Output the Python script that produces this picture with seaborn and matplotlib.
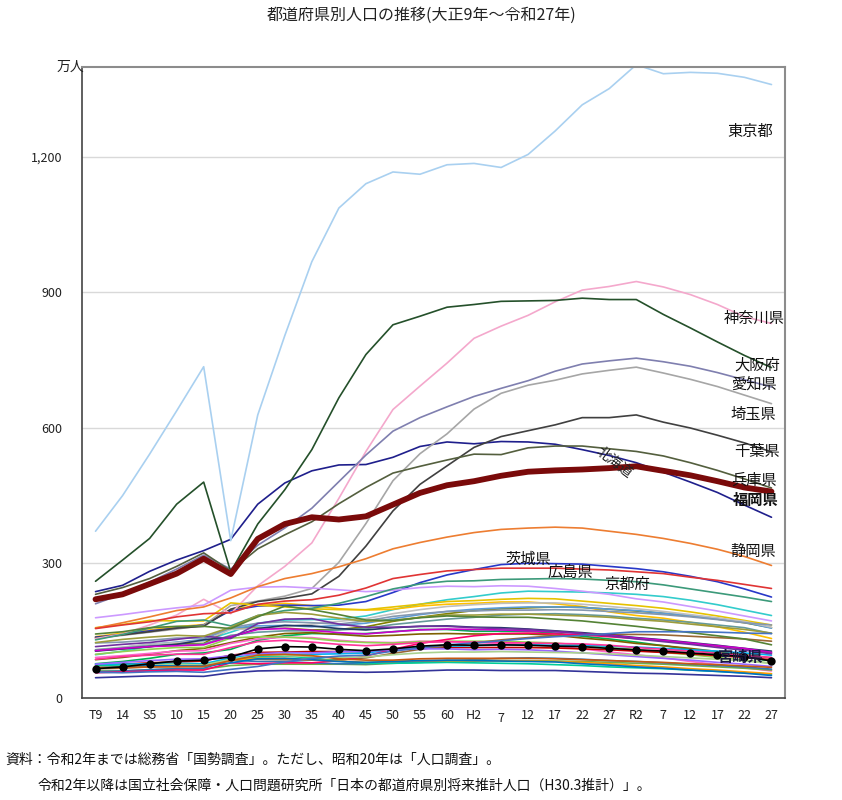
import numpy as np
import pandas as pd
import matplotlib
matplotlib.use("Agg")
import matplotlib.pyplot as plt
import seaborn as sns

# ---- x axis categories (census years, 大正9年 .. 令和27年) ----
x_labels = ["T9", "14", "S5", "10", "15", "20", "25", "30", "35", "40", "45", "50", "55",
            "60", "H2", "7", "12", "17", "22", "27", "R2", "7", "12", "17", "22", "27"]

# ---- population by prefecture (万人) ----
hokkaido = [236, 250, 281, 306, 327, 352, 430, 477, 504, 517, 518, 534, 558, 568, 564, 569, 568, 563, 551, 538, 522, 501, 479, 456, 428, 401]
aomori = [76, 81, 88, 97, 100, 108, 128, 138, 143, 142, 143, 147, 152, 152, 148, 148, 148, 144, 137, 131, 124, 116, 108, 99, 91, 82]
iwate = [85, 90, 97, 105, 110, 123, 135, 143, 145, 141, 137, 139, 142, 143, 142, 142, 142, 139, 133, 128, 121, 116, 110, 103, 96, 89]
miyagi = [96, 104, 114, 123, 127, 146, 166, 173, 174, 175, 182, 196, 208, 218, 225, 233, 237, 236, 235, 233, 230, 225, 217, 207, 195, 183]
akita = [90, 94, 99, 104, 105, 121, 131, 135, 134, 128, 124, 123, 126, 125, 123, 121, 119, 115, 109, 102, 96, 89, 81, 74, 67, 60]
yamagata = [97, 103, 108, 112, 112, 133, 136, 135, 132, 126, 123, 122, 125, 126, 126, 126, 124, 122, 117, 112, 107, 101, 96, 90, 84, 77]
fukushima = [136, 144, 151, 158, 163, 196, 206, 210, 205, 198, 195, 197, 204, 208, 210, 213, 213, 209, 203, 191, 183, 177, 168, 158, 146, 132]
ibaraki = [135, 141, 149, 155, 162, 194, 204, 206, 205, 206, 214, 234, 256, 273, 285, 296, 299, 298, 297, 292, 287, 280, 270, 258, 242, 224]
tochigi = [105, 109, 114, 120, 121, 155, 155, 155, 151, 152, 158, 170, 179, 187, 194, 198, 200, 202, 201, 197, 193, 188, 182, 175, 167, 156]
gunma = [105, 112, 119, 124, 130, 155, 160, 161, 158, 161, 166, 176, 185, 192, 197, 200, 202, 202, 201, 197, 194, 188, 183, 176, 168, 155]
saitama = [132, 139, 146, 153, 161, 205, 215, 226, 243, 301, 387, 482, 542, 586, 641, 676, 694, 705, 719, 727, 734, 721, 707, 691, 672, 653]
chiba = [134, 140, 147, 155, 159, 197, 214, 221, 231, 270, 337, 415, 474, 515, 556, 580, 593, 606, 622, 622, 628, 612, 599, 583, 566, 546]
tokyo = [370, 449, 541, 637, 735, 349, 628, 804, 968, 1087, 1141, 1167, 1162, 1183, 1186, 1177, 1206, 1258, 1316, 1352, 1405, 1385, 1388, 1386, 1377, 1361]
kanagawa = [132, 142, 162, 184, 219, 187, 249, 292, 344, 443, 547, 640, 692, 743, 798, 825, 849, 879, 905, 913, 924, 912, 895, 873, 846, 831]
niigata = [178, 185, 193, 200, 206, 239, 246, 247, 244, 240, 236, 239, 245, 248, 247, 249, 248, 243, 237, 230, 220, 213, 203, 193, 182, 171]
toyama = [72, 75, 78, 80, 82, 95, 101, 102, 103, 103, 103, 107, 110, 112, 112, 112, 112, 111, 109, 107, 104, 101, 98, 94, 90, 85]
ishikawa = [75, 75, 76, 77, 76, 89, 96, 97, 97, 98, 100, 107, 112, 115, 116, 118, 118, 117, 117, 115, 113, 110, 107, 104, 100, 95]
fukui = [60, 60, 62, 65, 64, 72, 75, 75, 75, 75, 74, 77, 79, 82, 82, 83, 83, 82, 81, 79, 77, 75, 72, 69, 66, 62]
yamanashi = [58, 60, 63, 65, 66, 84, 81, 81, 78, 76, 76, 78, 80, 83, 85, 88, 89, 88, 86, 83, 81, 78, 75, 72, 69, 64]
nagano = [156, 163, 172, 171, 171, 211, 206, 202, 198, 196, 196, 202, 208, 214, 216, 219, 221, 220, 215, 210, 205, 199, 191, 182, 172, 162]
gifu = [107, 113, 119, 123, 127, 152, 154, 158, 164, 170, 176, 187, 196, 203, 207, 210, 211, 211, 208, 203, 198, 192, 185, 178, 170, 157]
shizuoka = [155, 167, 180, 194, 202, 222, 247, 265, 276, 291, 309, 331, 345, 357, 367, 374, 377, 379, 377, 370, 363, 354, 343, 330, 314, 294]
aichi = [209, 231, 257, 286, 317, 286, 339, 377, 421, 480, 539, 592, 622, 646, 669, 687, 704, 725, 741, 748, 754, 746, 736, 722, 706, 690]
mie = [107, 111, 116, 117, 120, 139, 146, 149, 149, 151, 154, 163, 169, 175, 179, 184, 186, 187, 185, 182, 177, 173, 168, 162, 156, 143]
shiga = [65, 66, 69, 71, 70, 86, 86, 85, 84, 85, 89, 99, 108, 116, 122, 129, 134, 138, 141, 141, 141, 140, 137, 134, 131, 126]
kyoto = [129, 141, 155, 170, 173, 160, 183, 194, 199, 210, 225, 242, 253, 259, 260, 263, 264, 265, 264, 261, 258, 251, 242, 233, 224, 214]
osaka = [259, 306, 354, 430, 479, 280, 386, 462, 551, 666, 762, 828, 847, 867, 873, 880, 881, 882, 887, 884, 884, 851, 821, 790, 760, 733]
hyogo = [230, 245, 265, 292, 322, 282, 331, 362, 391, 431, 467, 499, 514, 528, 541, 540, 555, 559, 559, 553, 547, 537, 522, 505, 486, 466]
nara = [56, 58, 60, 62, 62, 78, 76, 78, 78, 83, 93, 108, 121, 130, 138, 143, 144, 142, 140, 136, 132, 127, 121, 115, 109, 100]
wakayama = [75, 79, 83, 86, 87, 94, 98, 101, 100, 103, 104, 107, 109, 109, 107, 108, 107, 104, 100, 96, 92, 88, 84, 79, 75, 70]
tottori = [45, 47, 49, 49, 48, 56, 60, 61, 60, 58, 57, 58, 60, 62, 62, 61, 61, 61, 59, 57, 55, 54, 52, 50, 48, 45]
shimane = [71, 72, 74, 75, 74, 86, 91, 93, 89, 82, 77, 77, 78, 79, 78, 77, 76, 74, 72, 69, 67, 65, 62, 59, 56, 53]
okayama = [122, 124, 128, 133, 133, 156, 166, 169, 167, 164, 171, 181, 187, 192, 193, 195, 195, 196, 195, 192, 189, 185, 180, 174, 167, 162]
hiroshima = [154, 162, 169, 180, 187, 189, 208, 215, 218, 228, 244, 265, 274, 282, 285, 288, 288, 288, 286, 284, 280, 276, 268, 261, 252, 243]
yamaguchi = [104, 109, 114, 119, 129, 135, 154, 161, 160, 154, 151, 156, 159, 160, 157, 156, 153, 149, 145, 140, 134, 129, 123, 117, 110, 104]
tokushima = [67, 69, 72, 73, 72, 84, 88, 88, 85, 82, 79, 81, 83, 83, 83, 83, 82, 81, 79, 76, 72, 69, 65, 62, 58, 54]
kagawa = [68, 70, 73, 75, 73, 86, 95, 94, 92, 90, 91, 96, 100, 102, 102, 103, 102, 101, 100, 98, 95, 92, 89, 86, 82, 77]
ehime = [105, 110, 114, 116, 118, 136, 152, 154, 150, 145, 142, 147, 151, 153, 152, 151, 149, 147, 143, 139, 133, 128, 122, 116, 110, 101]
kochi = [67, 69, 72, 71, 71, 78, 87, 88, 85, 81, 79, 81, 83, 84, 83, 82, 81, 80, 76, 73, 69, 66, 62, 59, 55, 50]
fukuoka = [219, 230, 253, 276, 309, 275, 353, 386, 401, 396, 403, 429, 455, 472, 481, 493, 502, 505, 507, 510, 514, 504, 494, 481, 467, 458]
saga = [67, 68, 69, 69, 70, 83, 95, 97, 94, 87, 84, 84, 87, 88, 88, 88, 88, 87, 85, 83, 81, 79, 76, 74, 71, 68]
nagasaki = [114, 119, 123, 130, 137, 132, 165, 175, 176, 164, 157, 157, 159, 159, 156, 154, 152, 148, 143, 138, 131, 125, 119, 112, 106, 98]
kumamoto = [123, 130, 135, 139, 137, 157, 183, 190, 186, 177, 170, 172, 179, 184, 184, 186, 186, 184, 182, 179, 174, 170, 164, 158, 152, 144]
oita = [86, 92, 95, 97, 97, 112, 125, 128, 124, 119, 116, 119, 123, 125, 124, 123, 122, 121, 120, 117, 112, 108, 104, 99, 94, 90]
miyazaki = [65, 69, 76, 82, 84, 91, 109, 114, 113, 108, 105, 109, 115, 118, 117, 118, 117, 115, 114, 110, 107, 104, 100, 96, 92, 82]
kagoshima = [142, 147, 156, 159, 159, 154, 180, 204, 196, 185, 173, 172, 178, 182, 180, 179, 179, 175, 171, 165, 159, 152, 145, 138, 131, 118]
okinawa = [57, 56, 58, 59, 57, np.nan, 70, 80, 88, 93, 95, 104, 111, 118, 122, 127, 132, 136, 139, 143, 147, 147, 147, 146, 144, 143]

pref_names = ["北海道", "青森県", "岩手県", "宮城県", "秋田県", "山形県", "福島県", "茨城県", "栃木県", "群馬県",
              "埼玉県", "千葉県", "東京都", "神奈川県", "新潟県", "富山県", "石川県", "福井県", "山梨県", "長野県",
              "岐阜県", "静岡県", "愛知県", "三重県", "滋賀県", "京都府", "大阪府", "兵庫県", "奈良県", "和歌山県",
              "鳥取県", "島根県", "岡山県", "広島県", "山口県", "徳島県", "香川県", "愛媛県", "高知県", "福岡県",
              "佐賀県", "長崎県", "熊本県", "大分県", "宮崎県", "鹿児島県", "沖縄県"]
pref_values = [hokkaido, aomori, iwate, miyagi, akita, yamagata, fukushima, ibaraki, tochigi, gunma,
               saitama, chiba, tokyo, kanagawa, niigata, toyama, ishikawa, fukui, yamanashi, nagano,
               gifu, shizuoka, aichi, mie, shiga, kyoto, osaka, hyogo, nara, wakayama,
               tottori, shimane, okayama, hiroshima, yamaguchi, tokushima, kagawa, ehime, kochi, fukuoka,
               saga, nagasaki, kumamoto, oita, miyazaki, kagoshima, okinawa]

pref_colors = ["#1F1F8C", "#00B050", "#7F6000", "#33CCCC", "#FF66CC", "#92D050", "#FFC000", "#2838C8", "#808000", "#5B9BD5",
               "#A6A6A6", "#404040", "#A9D0F0", "#F4A8CC", "#CC99FF", "#C00000", "#00B0F0", "#70AD47", "#2E75B6", "#E6C200",
               "#BFBFBF", "#ED7D31", "#7F7FAF", "#669999", "#996633", "#3C9A7A", "#24502A", "#545F3E", "#FF0066", "#9966FF",
               "#333399", "#00CC99", "#8497B0", "#E03434", "#1F3864", "#FF9900", "#A9D18E", "#CC00CC", "#0070C0", "#7A0A0A",
               "#C55A11", "#7030A0", "#9C9C3C", "#FF3399", "#000000", "#548235", "#4472C4"]

rows = []
for name, vals in zip(pref_names, pref_values):
    for i, v in enumerate(vals):
        rows.append({"pref": name, "x": i, "pop": v})
df = pd.DataFrame(rows)

sns.set_theme(style="white")
plt.rcParams["font.family"] = ["Noto Sans CJK JP", "DejaVu Sans"]

fig = plt.figure(figsize=(8.42, 8.00), dpi=100)
ax = fig.add_axes([0.0974, 0.1275, 0.8349, 0.7888])

special_order = ["福岡県", "宮崎県"]
for name, col in zip(pref_names, pref_colors):
    if name in special_order:
        continue
    sns.lineplot(data=df[df["pref"] == name], x="x", y="pop", color=col, lw=1.2,
                 ax=ax, legend=False, errorbar=None, zorder=2)

sns.lineplot(data=df[df["pref"] == "宮崎県"], x="x", y="pop", color="#000000", lw=1.2,
             marker="o", markersize=6, markeredgewidth=0, ax=ax, legend=False, errorbar=None, zorder=4)
sns.lineplot(data=df[df["pref"] == "福岡県"], x="x", y="pop", color="#7A0A0A", lw=4.2,
             ax=ax, legend=False, errorbar=None, zorder=5)

ax.set_xlim(-0.5, 25.5)
ax.set_ylim(0, 1400)
ax.set_yticks([0, 300, 600, 900, 1200])
ax.set_yticklabels(["0", "300", "600", "900", "1,200"])
ax.set_xticks(range(len(x_labels)))
ax.set_xticklabels(x_labels)
ax.set_xlabel("")
ax.set_ylabel("")
ax.grid(False)
for yv in [300, 600, 900, 1200]:
    ax.axhline(yv, color="#D9D9D9", lw=1.0, zorder=0)

ax.tick_params(axis="x", length=0, pad=8, labelsize=9, colors="#222222")
ax.tick_params(axis="y", direction="in", length=4, width=1, pad=14, labelsize=9, colors="#222222")
ax.set_xticks([19.5], minor=True)
ax.tick_params(axis="x", which="minor", direction="in", length=5, width=1, color="#555555")
# the "7" after H2 sits a little lower in the original
ax.get_xticklabels()[15].set_y(-0.004)

for side in ["left", "bottom"]:
    ax.spines[side].set_color("#444444")
    ax.spines[side].set_linewidth(1.2)
for side in ["top", "right"]:
    ax.spines[side].set_color("#8C8C8C")
    ax.spines[side].set_linewidth(1.5)

ax.text(-0.42, 1400, "万人", ha="right", va="center", fontsize=10, color="#222222")

lab_fs = 11
right_labels = [("東京都", 25.07, 1258), ("神奈川県", 25.48, 842), ("大阪府", 25.33, 738),
                ("愛知県", 25.22, 696), ("埼玉県", 25.19, 629), ("千葉県", 25.30, 547),
                ("兵庫県", 25.22, 484), ("静岡県", 25.19, 324)]
for t, xx, yy in right_labels:
    ax.text(xx, yy, t, ha="right", va="center", fontsize=lab_fs, color="#111111", zorder=6)
ax.text(25.26, 440, "福岡県", ha="right", va="center", fontsize=lab_fs, color="#111111",
        fontweight="bold", zorder=6)
ax.text(23.88, 91, "宮崎県", ha="center", va="center", fontsize=lab_fs, color="#1a1a40",
        fontweight="bold", zorder=6)
ax.text(16.0, 307, "茨城県", ha="center", va="center", fontsize=lab_fs, color="#111111", zorder=6)
ax.text(17.56, 278, "広島県", ha="center", va="center", fontsize=lab_fs, color="#111111", zorder=6)
ax.text(19.67, 251, "京都府", ha="center", va="center", fontsize=lab_fs, color="#111111", zorder=6)
ax.text(19.2, 522, "北海道", ha="center", va="center", fontsize=10, color="#222222",
        rotation=-37, zorder=6)

fig.text(0.5, 0.981, "都道府県別人口の推移(大正9年～令和27年)", ha="center", va="center",
         fontsize=11.5, color="#222222")
fig.text(0.006, 0.05, "資料：令和2年までは総務省「国勢調査」。ただし、昭和20年は「人口調査」。",
         ha="left", va="center", fontsize=10, color="#111111")
fig.text(0.044, 0.0175, "令和2年以降は国立社会保障・人口問題研究所「日本の都道府県別将来推計人口（H30.3推計）」。",
         ha="left", va="center", fontsize=10, color="#111111")

fig.savefig("out.png", dpi=100, facecolor="white")
